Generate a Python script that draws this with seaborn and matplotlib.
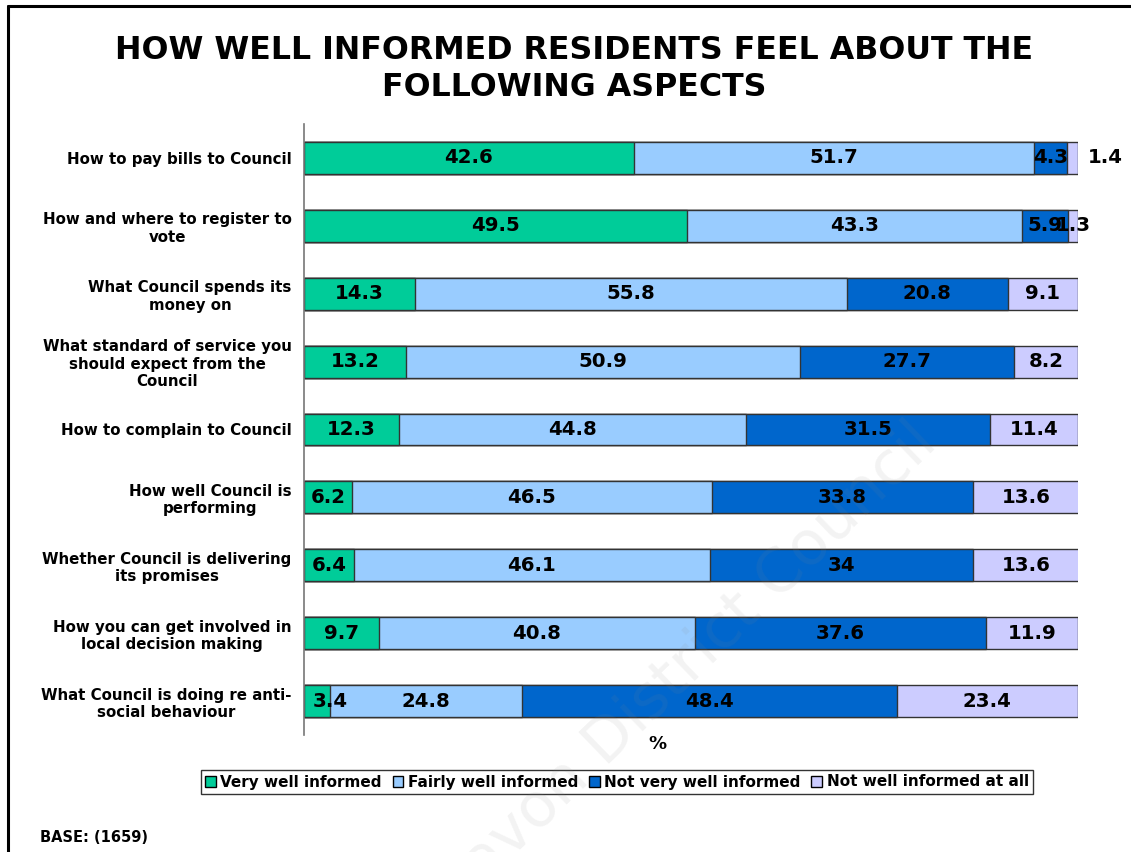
import numpy as np
import pandas as pd
import matplotlib
matplotlib.use("Agg")
import matplotlib.pyplot as plt
from matplotlib.lines import Line2D
from matplotlib.patches import Patch
import seaborn as sns

# Survey aspects (top to bottom)
aspects = [
    "How to pay bills to Council",
    "How and where to register to\nvote",
    "What Council spends its\nmoney on",
    "What standard of service you\nshould expect from the\nCouncil",
    "How to complain to Council",
    "How well Council is\nperforming",
    "Whether Council is delivering\nits promises",
    "How you can get involved in\nlocal decision making",
    "What Council is doing re anti-\nsocial behaviour",
]

# Response shares (%)
very_well = [42.6, 49.5, 14.3, 13.2, 12.3, 6.2, 6.4, 9.7, 3.4]
fairly_well = [51.7, 43.3, 55.8, 50.9, 44.8, 46.5, 46.1, 40.8, 24.8]
not_very_well = [4.3, 5.9, 20.8, 27.7, 31.5, 33.8, 34, 37.6, 48.4]
not_at_all = [1.4, 1.3, 9.1, 8.2, 11.4, 13.6, 13.6, 11.9, 23.4]

series_names = ["Very well informed", "Fairly well informed",
                "Not very well informed", "Not well informed at all"]
series_values = [very_well, fairly_well, not_very_well, not_at_all]
series_colors = ["#00CC99", "#99CCFF", "#0066CC", "#CCCCFF"]

sns.set_style("white")
plt.rcParams["font.family"] = ["DejaVu Sans"]
plt.rcParams["text.color"] = "black"
plt.rcParams["ytick.color"] = "black"
plt.rcParams["xtick.color"] = "black"
plt.rcParams["axes.labelcolor"] = "black"

fig = plt.figure(figsize=(11.31, 8.52), dpi=100)
ax = fig.add_axes([0.2688, 0.1373, 0.9531 - 0.2688, 0.8545 - 0.1373])

vals = np.array(series_values, dtype=float)
cum = np.cumsum(vals, axis=0)

# Stacked bars: draw cumulative totals from the outermost layer inwards
for k in range(len(series_names) - 1, -1, -1):
    df = pd.DataFrame({"aspect": aspects, "value": cum[k]})
    sns.barplot(data=df, x="value", y="aspect", orient="h", color=series_colors[k],
                saturation=1, width=0.47, edgecolor="#333333", linewidth=1.0,
                ax=ax, zorder=2)

# Segment labels
label_kw = dict(fontsize=14.2, fontweight="bold", color="black", zorder=5, va="center")
for k in range(len(series_names)):
    for i in range(len(aspects)):
        v = vals[k, i]
        start = cum[k, i] - v
        txt = f"{v:g}"
        if k == 3 and i == 0:
            ax.text(cum[k, i] + 1.3, i, txt, ha="left", **label_kw)
        elif k == 0 and v < 4:
            ax.text(1.1, i, txt, ha="left", **label_kw)
        else:
            ax.text(start + v / 2, i, txt, ha="center", **label_kw)

ax.set_xlim(0, 100)
ax.set_ylim(len(aspects) - 0.5, -0.5)
ax.set_xlabel("")
ax.set_ylabel("")
ax.set_xticks([])
ax.set_yticks(np.arange(len(aspects)))
ax.set_yticklabels(aspects, fontsize=10.8, fontweight="bold")
for lbl in ax.get_yticklabels():
    lbl.set_multialignment("center")
ax.tick_params(axis="y", which="major", length=0, pad=9)
ax.set_yticks(np.arange(-0.5, len(aspects), 1.0), minor=True)
ax.tick_params(axis="y", which="minor", length=5, width=1, color="#555555", direction="out")
for s in ["top", "right", "bottom"]:
    ax.spines[s].set_visible(False)
ax.spines["left"].set_color("#777777")
ax.spines["left"].set_linewidth(1.2)

# Percent axis caption
fig.text(657 / 1131, 1 - 744 / 852, "%", ha="center", va="center",
         fontsize=13, fontweight="bold")

# Title
fig.text(0.508, 1 - 69 / 852,
         "HOW WELL INFORMED RESIDENTS FEEL ABOUT THE\nFOLLOWING ASPECTS",
         ha="center", va="center", fontsize=22.8, fontweight="bold", linespacing=1.28)

# Legend
handles = [Patch(facecolor=c, edgecolor="black", linewidth=1) for c in series_colors]
leg = fig.legend(handles, series_names, loc="center", bbox_to_anchor=(617 / 1131, 1 - 782 / 852),
                 ncol=4, frameon=True, fancybox=False, edgecolor="black",
                 prop={"weight": "bold", "size": 11}, handlelength=0.7, handleheight=0.7,
                 handletextpad=0.3, columnspacing=0.7, borderpad=0.3)
leg.get_frame().set_linewidth(1.0)

# Base note
fig.text(40 / 1131, 1 - 838 / 852, "BASE: (1659)", ha="left", va="center",
         fontsize=10.5, fontweight="bold")

# Faint watermark
fig.text(640 / 1131, 1 - 712 / 852, "Wychavon District Council", ha="center", va="center",
         rotation=44, fontsize=44, color="#888888", alpha=0.1, zorder=10)

# Page frame (top and left edges)
fig.add_artist(Line2D([8 / 1131, 1.0], [1 - 6 / 852, 1 - 6 / 852], color="black", lw=2.2,
                      transform=fig.transFigure))
fig.add_artist(Line2D([8 / 1131, 8 / 1131], [0, 1 - 6 / 852], color="black", lw=2.2,
                      transform=fig.transFigure))

fig.savefig("out.png", dpi=100)
